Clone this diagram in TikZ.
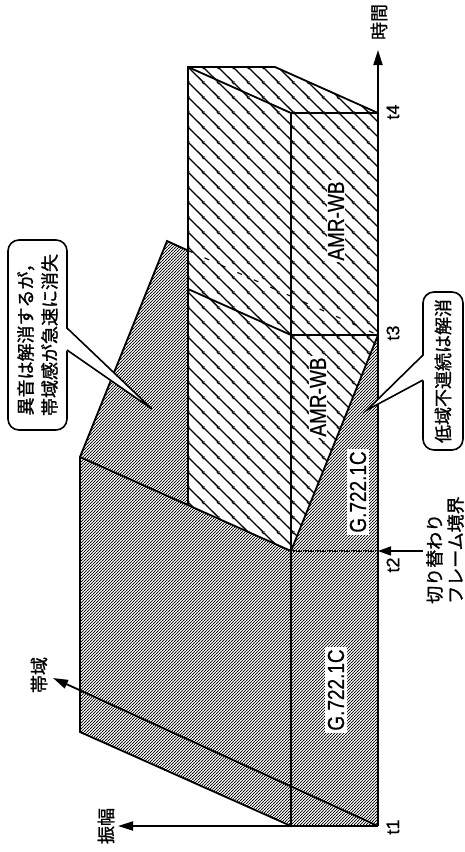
\documentclass[tikz,border=0pt]{standalone}
\usepackage{graphicx}
\usepackage{fontspec}
\setmainfont{Liberation Sans}[FakeBold=0.6]
\newfontfamily\jpfont{Noto Sans CJK JP}[FakeBold=1.2]
\usetikzlibrary{patterns.meta,arrows.meta}

\tikzdeclarepattern{
  name=fdots, type=uncolored,
  bounding box={(0pt,0pt) and (3pt,3pt)},
  tile size={(3pt,3pt)},
  code={\pgfpathcircle{\pgfpoint{0.75pt}{0.75pt}}{0.95pt}%
        \pgfpathcircle{\pgfpoint{2.25pt}{2.25pt}}{0.95pt}%
        \pgfpathcircle{\pgfpoint{-0.75pt}{3.75pt}}{0.95pt}%
        \pgfpathcircle{\pgfpoint{3.75pt}{-0.75pt}}{0.95pt}%
        \pgfpathcircle{\pgfpoint{-0.75pt}{-0.75pt}}{0.95pt}%
        \pgfpathcircle{\pgfpoint{3.75pt}{3.75pt}}{0.95pt}%
        \pgfusepath{fill}}
}
\tikzdeclarepattern{
  name=hatchlines, type=uncolored,
  bounding box={(0pt,0pt) and (14.5pt,14.5pt)},
  tile size={(14.5pt,14.5pt)},
  code={\pgfsetlinewidth{1.4pt}%
    \pgfpathmoveto{\pgfpoint{-1pt}{15.5pt}}\pgfpathlineto{\pgfpoint{15.5pt}{-1pt}}%
    \pgfpathmoveto{\pgfpoint{-1pt}{1pt}}\pgfpathlineto{\pgfpoint{1pt}{-1pt}}%
    \pgfpathmoveto{\pgfpoint{13.5pt}{15.5pt}}\pgfpathlineto{\pgfpoint{15.5pt}{13.5pt}}%
    \pgfusepath{stroke}}
}
\newcommand\tallbox[1]{\scalebox{1}[1.22]{#1}}

\begin{document}
\begin{tikzpicture}[x=1pt,y=-1pt,line join=miter,
  edge/.style={line width=1.8pt},
  axisline/.style={line width=1.8pt,-{Triangle[length=15pt,width=9pt]}},
  jptext/.style={font=\jpfont\fontsize{18}{24}\selectfont},
  tlabel/.style={font=\fontsize{18}{20}\selectfont,rotate=90,inner sep=0pt},
  codec/.style={font=\fontsize{19}{20}\selectfont,rotate=90,fill=white,inner sep=2.5pt},
  callout/.style={draw,line width=1.6pt,rounded corners=11pt,fill=white,rotate=90,align=center,inner sep=0pt}]
\useasboundingbox (0,0) rectangle (465,852);

% key points
\coordinate (O) at (378,826);
\coordinate (A1) at (291,826);
\coordinate (B1) at (80,732);
\coordinate (B2) at (80,457);
\coordinate (T2) at (291,551);
\coordinate (F2) at (378,551);
\coordinate (T3) at (378,335);
\coordinate (P3) at (167,241);
\coordinate (Q3) at (188,250.5);
\coordinate (H2) at (188,505);
\coordinate (H3) at (188,289);
\coordinate (H4) at (188,67);
\coordinate (K4) at (275,67);
\coordinate (F4) at (378,113);
\coordinate (A4) at (291,113);
\coordinate (A3) at (291,335);

% G.722.1C (dotted) region
\fill[pattern=fdots] (O) -- (A1) -- (B1) -- (B2) -- (P3) -- (T3) -- cycle;
% AMR-WB (hatched) block
\fill[white] (H2) -- (H4) -- (K4) -- (F4) -- (T3) -- (T2) -- cycle;
\fill[pattern=hatchlines] (H2) -- (H4) -- (K4) -- (F4) -- (T3) -- (T2) -- cycle;

% hidden edge
\draw[line width=1.1pt,dash pattern=on 5pt off 13pt] (Q3) -- (T3);

% outlines
\draw[edge] (A1) -- (B1) -- (B2) -- (P3) -- (Q3);
\draw[edge] (B2) -- (T2);
\draw[edge] (A1) -- (A4);
\draw[edge] (T2) -- (T3);
\draw[edge] (H2) -- (H4) -- (K4) -- (F4);
\draw[edge] (H4) -- (A4) -- (F4);
\draw[edge] (H3) -- (A3) -- (T3);
\draw[line width=1.4pt,densely dotted] (T2) -- (F2);

% labels inside
\node[codec] (g1) at (336,690) {\tallbox{G.722.1C}};
\node[codec] (g2) at (358,492) {\tallbox{G.722.1C}};
\node[codec,inner sep=1.5pt] (w1) at (318,397) {\tallbox{AMR-WB}};
\node[codec,inner sep=1.5pt] (w2) at (336,221) {\tallbox{AMR-WB}};

% axes
\coordinate (TimeEnd) at (378,50);
\coordinate (AmpEnd) at (118,826);
\coordinate (BandEnd) at (53,678);
\draw[axisline] (O) -- (TimeEnd);
\draw[axisline] (O) -- (AmpEnd);
\draw[axisline] (O) -- (BandEnd);
\node[jptext,rotate=90,inner sep=0pt] (time) at (379,22) {時間};
\node[jptext,rotate=90,inner sep=0pt] (amp) at (106,826) {振幅};
\node[jptext,rotate=90,inner sep=0pt] (band) at (39,675) {帯域};

% time ticks
\node[tlabel] (t1) at (393,827) {t1};
\node[tlabel] (t2) at (393,565) {t2};
\node[tlabel] (t3) at (393,333) {t3};
\node[tlabel] (t4) at (393,112) {t4};

% switching boundary
\coordinate (SW) at (423,551);
\draw[line width=1.5pt,-{Triangle[length=13pt,width=9pt]}] (SW) -- (F2);
\node[jptext,font=\jpfont\fontsize{18}{21}\selectfont,rotate=90,anchor=west,align=left,inner sep=0pt] (swlabel) at (445,604) {切り替わり\\フレーム境界};

% callout 1
\node[callout,jptext,minimum width=190pt,minimum height=59pt] (c1) at (37.5,335) {異音は解消するが，\\帯域感が急速に消失};
\coordinate (c1tip) at (152,409);
\fill[white] (65.5,328) -- (c1tip) -- (65.5,350) -- cycle;
\draw[line width=1.6pt] (67,328) -- (c1tip) -- (67,350);

% callout 2
\node[callout,jptext,minimum width=158pt,minimum height=40pt] (c2) at (443,371) {低域不連続は解消};
\coordinate (c2tip) at (367,410);
\fill[white] (424.5,355) -- (c2tip) -- (424.5,380) -- cycle;
\draw[line width=1.6pt] (423,355) -- (c2tip) -- (423,380);
\end{tikzpicture}
\end{document}
